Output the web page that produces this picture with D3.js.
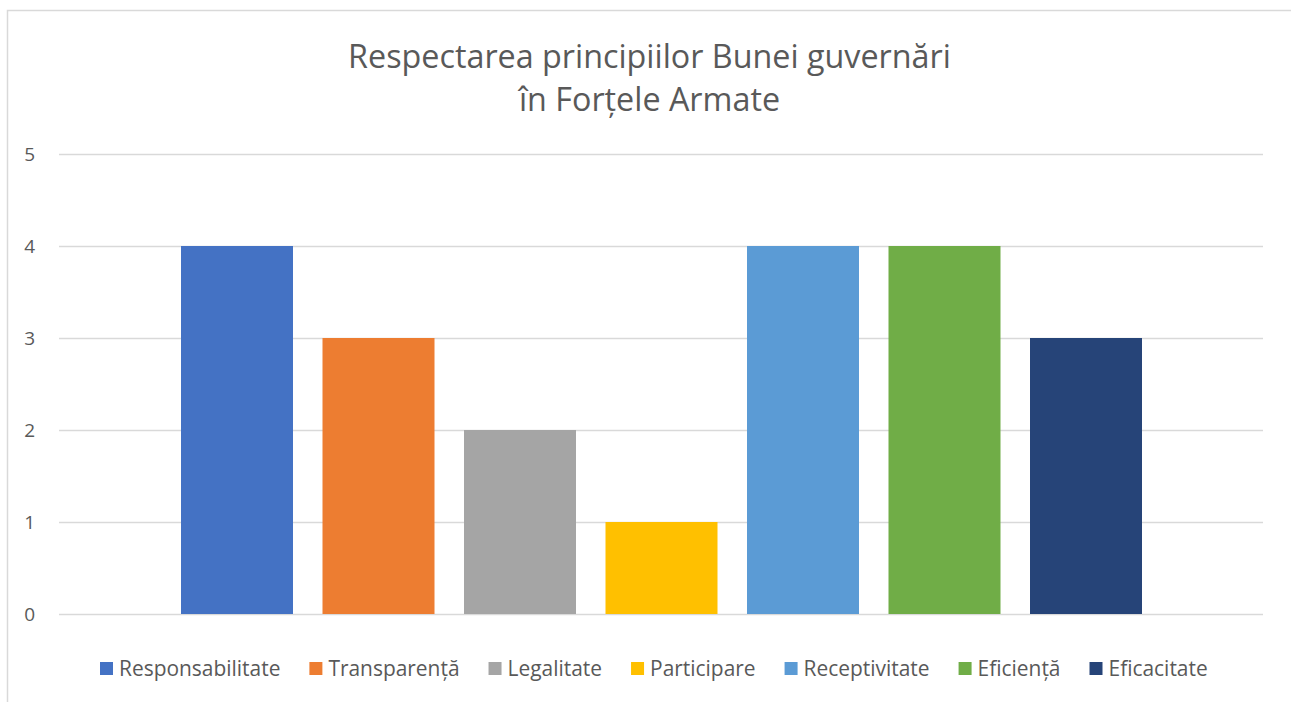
<!DOCTYPE html>
<html><head><meta charset="utf-8">
<script src="https://cdn.jsdelivr.net/npm/d3@7"></script>
<style>html,body{margin:0;padding:0;background:#fff;}</style>
</head><body>
<svg id="c" width="1291" height="702"></svg>
<script>
const titleLines = ["Respectarea principiilor Bunei guvernări", "în Forțele Armate"];
const series = ["Responsabilitate","Transparență","Legalitate","Participare","Receptivitate","Eficiență","Eficacitate"];
const values = [4,3,2,1,4,4,3];
const colors = ["#4472C4","#ED7D31","#A5A5A5","#FFC000","#5B9BD5","#70AD47","#264478"];
const yTicks = [0,1,2,3,4,5];

const FONT = "'Open Sans', 'Liberation Sans', sans-serif";
const svg = d3.select("#c");
svg.append("rect").attr("x",7.5).attr("y",10.5).attr("width",1290).attr("height",720)
  .attr("fill","#fff").attr("stroke","#d9d9d9").attr("stroke-width",1.5);

const y = d3.scaleLinear().domain([0,5]).range([614,154]);
const x = d3.scaleBand().domain(series).range([181,1142]).paddingInner(29.5/141.5).paddingOuter(0);

// gridlines
const yAxis = d3.axisLeft(y).tickValues(yTicks).tickSize(-(1263-59)).tickPadding(24).tickFormat(d3.format("d"));
const ga = svg.append("g").attr("transform","translate(59,0)").call(yAxis);
ga.select(".domain").remove();
ga.selectAll(".tick line").attr("stroke","#d9d9d9").attr("stroke-width",1.3);
ga.selectAll(".tick text").attr("fill","#595959").style("font-family",FONT).style("font-size","19px").attr("dy","0.35em");

svg.append("g").selectAll("rect").data(series).join("rect")
  .attr("x",d=>x(d)).attr("width",x.bandwidth())
  .attr("y",(d,i)=>y(values[i])).attr("height",(d,i)=>y(0)-y(values[i]))
  .attr("fill",(d,i)=>colors[i]);

// title
const t1 = svg.append("text").attr("x",649.5).attr("y",68).attr("text-anchor","middle")
  .attr("fill","#595959").style("font-family",FONT).text(titleLines[0]);
const t2 = svg.append("text").attr("x",649.5).attr("y",111).attr("text-anchor","middle")
  .attr("fill","#595959").style("font-family",FONT).text(titleLines[1]);
t1.style("font-size","100px");
const w1 = t1.node().getComputedTextLength();
const fs = 100*603/w1;
t1.style("font-size",fs+"px"); t2.style("font-size",fs+"px");

// legend
const lg = svg.append("g");
const items = lg.selectAll("g").data(series).join("g");
items.append("rect").attr("width",13).attr("height",13).attr("fill",(d,i)=>colors[i]);
const lt = items.append("text").attr("x",19).attr("y",6.5).attr("dy","0.35em").attr("fill","#595959")
  .style("font-family",FONT).style("font-size","100px").text(d=>d);
let sumw = 0; lt.each(function(){ sumw += this.getComputedTextLength(); });
const target = 1108 - 7*19 - 6*29;
const lfs = 100*target/sumw;
lt.style("font-size",lfs+"px");
let cx = 100;
items.each(function(){
  const g = d3.select(this);
  g.attr("transform",`translate(${cx},662)`);
  cx += 19 + g.select("text").node().getComputedTextLength() + 29;
});
</script>
</body></html>
